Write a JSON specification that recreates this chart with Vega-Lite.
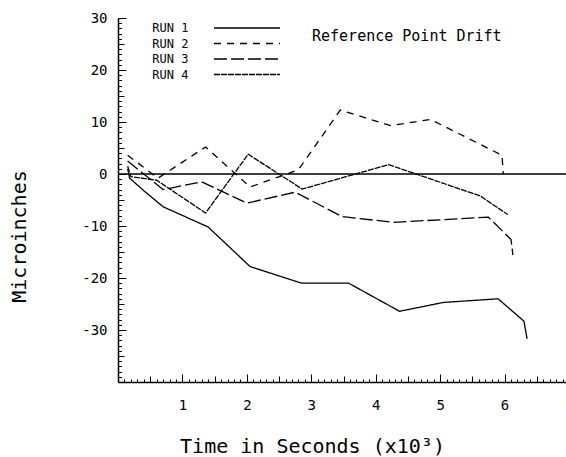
{
  "$schema": "https://vega.github.io/schema/vega-lite/v6.json",
  "autosize": "none",
  "padding": {"left": 118, "top": 18, "right": 0, "bottom": 75},
  "width": 451,
  "height": 364,
  "background": "white",
  "view": {"stroke": null},
  "config": {
    "axis": {
      "grid": false,
      "domainColor": "black",
      "domainWidth": 1.5,
      "tickColor": "black",
      "tickWidth": 1,
      "labelColor": "black",
      "labelFont": "DejaVu Sans Mono",
      "labelFontSize": 14,
      "labelOverlap": false,
      "labelFlush": false,
      "titleFont": "DejaVu Sans Mono",
      "titleFontSize": 20,
      "titleFontWeight": "normal",
      "titleColor": "black"
    }
  },
  "resolve": {"axis": {"x": "independent", "y": "independent"}},
  "title": {
    "text": "Reference Point Drift",
    "anchor": "start",
    "frame": "group",
    "orient": "top",
    "offset": 0,
    "dx": 194,
    "dy": 45,
    "baseline": "alphabetic",
    "font": "DejaVu Sans Mono",
    "fontSize": 15,
    "fontWeight": "normal",
    "color": "black"
  },
  "layer": [
    {
      "data": {
        "values": [
          {"run": "RUN 1", "t": 0.15, "v": 1.0},
          {"run": "RUN 1", "t": 0.18, "v": -0.8},
          {"run": "RUN 1", "t": 0.4, "v": -3.2},
          {"run": "RUN 1", "t": 0.7, "v": -6.3},
          {"run": "RUN 1", "t": 1.4, "v": -10.2},
          {"run": "RUN 1", "t": 2.05, "v": -17.8},
          {"run": "RUN 1", "t": 2.85, "v": -21.0},
          {"run": "RUN 1", "t": 3.58, "v": -21.0},
          {"run": "RUN 1", "t": 4.37, "v": -26.4},
          {"run": "RUN 1", "t": 5.05, "v": -24.7},
          {"run": "RUN 1", "t": 5.9, "v": -24.0},
          {"run": "RUN 1", "t": 6.3, "v": -28.3},
          {"run": "RUN 1", "t": 6.35, "v": -31.7},
          {"run": "RUN 2", "t": 0.15, "v": 3.6},
          {"run": "RUN 2", "t": 0.62, "v": -0.8},
          {"run": "RUN 2", "t": 1.36, "v": 5.2},
          {"run": "RUN 2", "t": 2.05, "v": -2.5},
          {"run": "RUN 2", "t": 2.8, "v": 0.8},
          {"run": "RUN 2", "t": 3.45, "v": 12.3},
          {"run": "RUN 2", "t": 4.23, "v": 9.3},
          {"run": "RUN 2", "t": 4.85, "v": 10.5},
          {"run": "RUN 2", "t": 5.96, "v": 3.6},
          {"run": "RUN 2", "t": 5.98, "v": 0},
          {"run": "RUN 3", "t": 0.15, "v": 2.5},
          {"run": "RUN 3", "t": 0.7, "v": -3.0},
          {"run": "RUN 3", "t": 1.3, "v": -1.5},
          {"run": "RUN 3", "t": 2.0, "v": -5.6},
          {"run": "RUN 3", "t": 2.75, "v": -3.5},
          {"run": "RUN 3", "t": 3.48, "v": -8.2},
          {"run": "RUN 3", "t": 4.28, "v": -9.3},
          {"run": "RUN 3", "t": 5.3, "v": -8.6},
          {"run": "RUN 3", "t": 5.75, "v": -8.3},
          {"run": "RUN 3", "t": 6.1, "v": -12.6},
          {"run": "RUN 3", "t": 6.13, "v": -15.6},
          {"run": "RUN 4", "t": 0.15, "v": 1.5},
          {"run": "RUN 4", "t": 0.2, "v": -0.5},
          {"run": "RUN 4", "t": 0.6, "v": -1.2},
          {"run": "RUN 4", "t": 1.36, "v": -7.5},
          {"run": "RUN 4", "t": 2.02, "v": 3.8},
          {"run": "RUN 4", "t": 2.86, "v": -2.9},
          {"run": "RUN 4", "t": 4.2, "v": 1.8},
          {"run": "RUN 4", "t": 5.62, "v": -4.2},
          {"run": "RUN 4", "t": 6.05, "v": -7.8}
        ]
      },
      "mark": {"type": "line", "color": "black", "strokeWidth": 1.3},
      "encoding": {
        "x": {
          "field": "t",
          "type": "quantitative",
          "scale": {"domain": [0, 7], "nice": false, "zero": false},
          "axis": {
            "orient": "bottom",
            "values": [1, 2, 3, 4, 5, 6, 7],
            "labelExpr": "toString(datum.value)",
            "tickSize": -8,
            "labelPadding": 24,
            "title": "Time in Seconds (x10³)",
            "titleX": 194,
            "titleY": 70,
            "titleBaseline": "alphabetic",
            "titleAnchor": "middle"
          }
        },
        "y": {
          "field": "v",
          "type": "quantitative",
          "scale": {"domain": [-40, 30], "nice": false, "zero": false},
          "axis": {
            "orient": "left",
            "values": [-40, -30, -20, -10, 0, 10, 20, 30],
            "labelExpr": "datum.value > -40 ? toString(datum.value) : ''",
            "tickSize": -8,
            "labelPadding": 19,
            "title": "Microinches",
            "titleAngle": -90,
            "titleX": -93,
            "titleY": 218,
            "titleBaseline": "alphabetic",
            "titleAnchor": "middle"
          }
        },
        "strokeDash": {
          "field": "run",
          "type": "nominal",
          "scale": {"domain": ["RUN 1", "RUN 2", "RUN 3", "RUN 4"], "range": [[1, 0], [7, 6], [13, 4], [6, 1]]},
          "legend": {
            "orient": "none",
            "legendX": 123,
            "legendY": 4,
            "title": null,
            "padding": 0,
            "symbolType": "M-20,0H20",
            "symbolSize": 10.89,
            "symbolStrokeWidth": 1.3,
            "symbolStrokeColor": "black",
            "labelOffset": -64.6,
            "labelAlign": "right",
            "labelFont": "DejaVu Sans Mono",
            "labelFontSize": 12,
            "labelColor": "black",
            "rowPadding": 3.5
          }
        }
      }
    },
    {
      "data": {"values": [{"ref": 0, "t0": 0, "t1": 7}]},
      "mark": {"type": "rule", "color": "black", "strokeWidth": 1.3},
      "encoding": {
        "x": {
          "field": "t0",
          "type": "quantitative",
          "axis": {
            "orient": "bottom",
            "values": [0.5, 1.5, 2.5, 3.5, 4.5, 5.5, 6.5],
            "tickSize": -6,
            "labels": false,
            "domain": false,
            "title": null
          }
        },
        "x2": {"field": "t1"},
        "y": {
          "field": "ref",
          "type": "quantitative",
          "axis": {
            "orient": "left",
            "values": [-35, -25, -15, -5, 5, 15, 25],
            "tickSize": -6,
            "labels": false,
            "domain": false,
            "title": null
          }
        }
      }
    },
    {
      "data": {"values": [{"ref": 0, "t0": 0, "t1": 7}]},
      "mark": {"type": "rule", "color": "black", "opacity": 0},
      "encoding": {
        "x": {
          "field": "t0",
          "type": "quantitative",
          "axis": {
            "orient": "bottom",
            "values": [0.1,0.2,0.3,0.4,0.6,0.7,0.8,0.9,1.1,1.2,1.3,1.4,1.6,1.7,1.8,1.9,2.1,2.2,2.3,2.4,2.6,2.7,2.8,2.9,3.1,3.2,3.3,3.4,3.6,3.7,3.8,3.9,4.1,4.2,4.3,4.4,4.6,4.7,4.8,4.9,5.1,5.2,5.3,5.4,5.6,5.7,5.8,5.9,6.1,6.2,6.3,6.4,6.6,6.7,6.8,6.9],
            "tickSize": -3,
            "labels": false,
            "domain": false,
            "title": null
          }
        },
        "x2": {"field": "t1"},
        "y": {
          "field": "ref",
          "type": "quantitative",
          "axis": {
            "orient": "left",
            "values": [-39,-38,-37,-36,-34,-33,-32,-31,-29,-28,-27,-26,-24,-23,-22,-21,-19,-18,-17,-16,-14,-13,-12,-11,-9,-8,-7,-6,-4,-3,-2,-1,1,2,3,4,6,7,8,9,11,12,13,14,16,17,18,19,21,22,23,24,26,27,28,29],
            "tickSize": -3.5,
            "labels": false,
            "domain": false,
            "title": null
          }
        }
      }
    }
  ]
}
